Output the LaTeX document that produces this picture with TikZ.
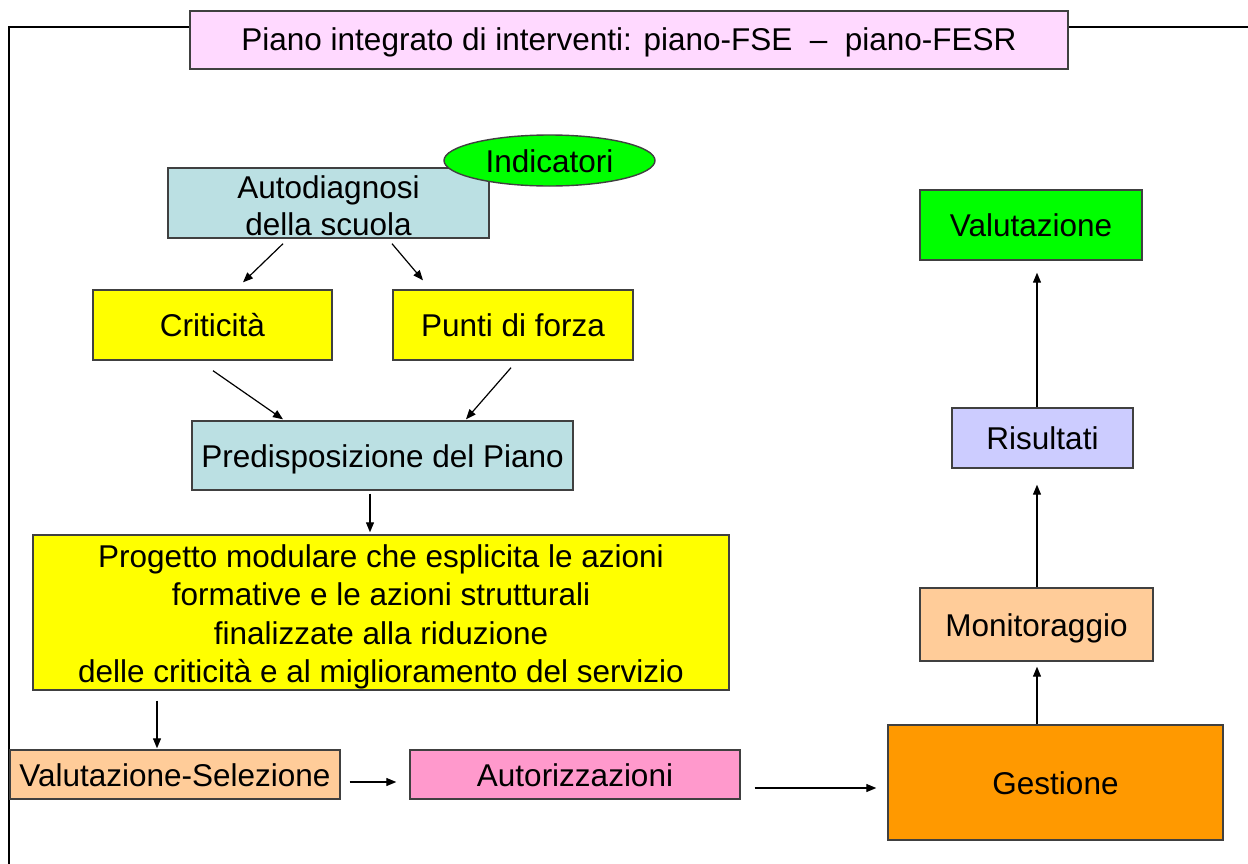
\documentclass[tikz,border=0pt]{standalone}
\usepackage{fontspec}
\setmainfont{Liberation Sans}
\usetikzlibrary{arrows.meta,shapes.geometric}
\definecolor{titlepink}{HTML}{FFD9FF}
\definecolor{lcyan}{HTML}{BBE0E3}
\definecolor{yel}{HTML}{FFFF00}
\definecolor{grn}{HTML}{00FF00}
\definecolor{peach}{HTML}{FFCC99}
\definecolor{pinkb}{HTML}{FF99CC}
\definecolor{orng}{HTML}{FF9900}
\definecolor{lav}{HTML}{CCCCFF}
\begin{document}
\begin{tikzpicture}[x=1pt,y=-1pt,
  box/.style={draw=black!75,line width=1.4pt,inner sep=0pt,align=center,
    font=\fontsize{31.5}{37}\selectfont},
  one/.style={text height=23pt,text depth=0pt},
  arr/.style={line width=1.2pt,-{Triangle[length=10pt,width=8pt]}}]
\useasboundingbox (0,0) rectangle (1248,863);
\fill[white] (0,0) rectangle (1248,863);
\draw[line width=2pt] (1250,27) -- (9,27) -- (9,866);

\node[box,text height=21pt,text depth=1pt,fill=titlepink,minimum width=878,minimum height=58] (title) at (629,40)
  {Piano integrato di interventi: piano-FSE\ \ –\ \ piano-FESR};
\node[box,text height=64pt,text depth=0pt,fill=lcyan,minimum width=321,minimum height=70] (auto) at (328.5,203)
  {Autodiagnosi\\della scuola};
\node[box,one,ellipse,fill=grn,minimum width=211,minimum height=51] (ind) at (549.5,160.5) {Indicatori};
\node[box,one,fill=yel,minimum width=239,minimum height=70] (crit) at (212.5,325) {Criticità};
\node[box,one,fill=yel,minimum width=240,minimum height=70] (punti) at (513,325) {Punti di forza};
\node[box,one,fill=lcyan,minimum width=381,minimum height=69] (pred) at (382.5,455.5) {Predisposizione del Piano};
\node[box,text height=142pt,text depth=2pt,fill=yel,minimum width=696,minimum height=155,
  font=\fontsize{31.5}{38.5}\selectfont] (prog) at (381,612.5)
  {Progetto modulare che esplicita le azioni\\formative e le azioni strutturali\\finalizzate alla riduzione\\delle criticità e al miglioramento del servizio};
\node[box,one,fill=peach,minimum width=330,minimum height=49] (valsel) at (175,774.5) {Valutazione-Selezione};
\node[box,one,fill=pinkb,minimum width=330,minimum height=49] (autor) at (575,774.5) {Autorizzazioni};
\node[box,one,fill=orng,minimum width=335,minimum height=115] (gest) at (1055.5,782.5) {Gestione};
\node[box,one,fill=peach,minimum width=233,minimum height=73] (monit) at (1036.5,624.5) {Monitoraggio};
\node[box,one,fill=lav,minimum width=181,minimum height=60] (ris) at (1042.5,438) {Risultati};
\node[box,one,fill=grn,minimum width=222,minimum height=70] (val) at (1031,225) {Valutazione};

\draw[arr] ([xshift=-45.5,yshift=-5]auto.south) -- ([xshift=30.5,yshift=7]crit.north);
\draw[arr] ([xshift=63.5,yshift=-5]auto.south) -- ([xshift=-90,yshift=9]punti.north);
\draw[arr] ([xshift=0.5,yshift=-10]crit.south) -- ([xshift=-99.5,yshift=1]pred.north);
\draw[arr] ([xshift=-2,yshift=-7]punti.south) -- ([xshift=83.5,yshift=1]pred.north);
\draw[arr] ([xshift=-12.5,yshift=-3]pred.south) -- ([xshift=-11,yshift=2]prog.north);
\draw[arr] ([xshift=-224,yshift=-10]prog.south) -- ([xshift=-18,yshift=1]valsel.north);
\draw[arr] ([xshift=9,yshift=-7.5]valsel.east) -- ([xshift=-13,yshift=-7.5]autor.west);
\draw[arr] ([xshift=14,yshift=-13.5]autor.east) -- ([xshift=-11,yshift=-5.5]gest.west);
\draw[arr] ([xshift=-18.5]gest.north) -- ([xshift=0.5,yshift=-5]monit.south);
\draw[arr] ([xshift=0.5]monit.north) -- ([xshift=-5.5,yshift=-16]ris.south);
\draw[arr] ([xshift=-5.5]ris.north) -- ([xshift=6,yshift=-12]val.south);
\end{tikzpicture}
\end{document}
